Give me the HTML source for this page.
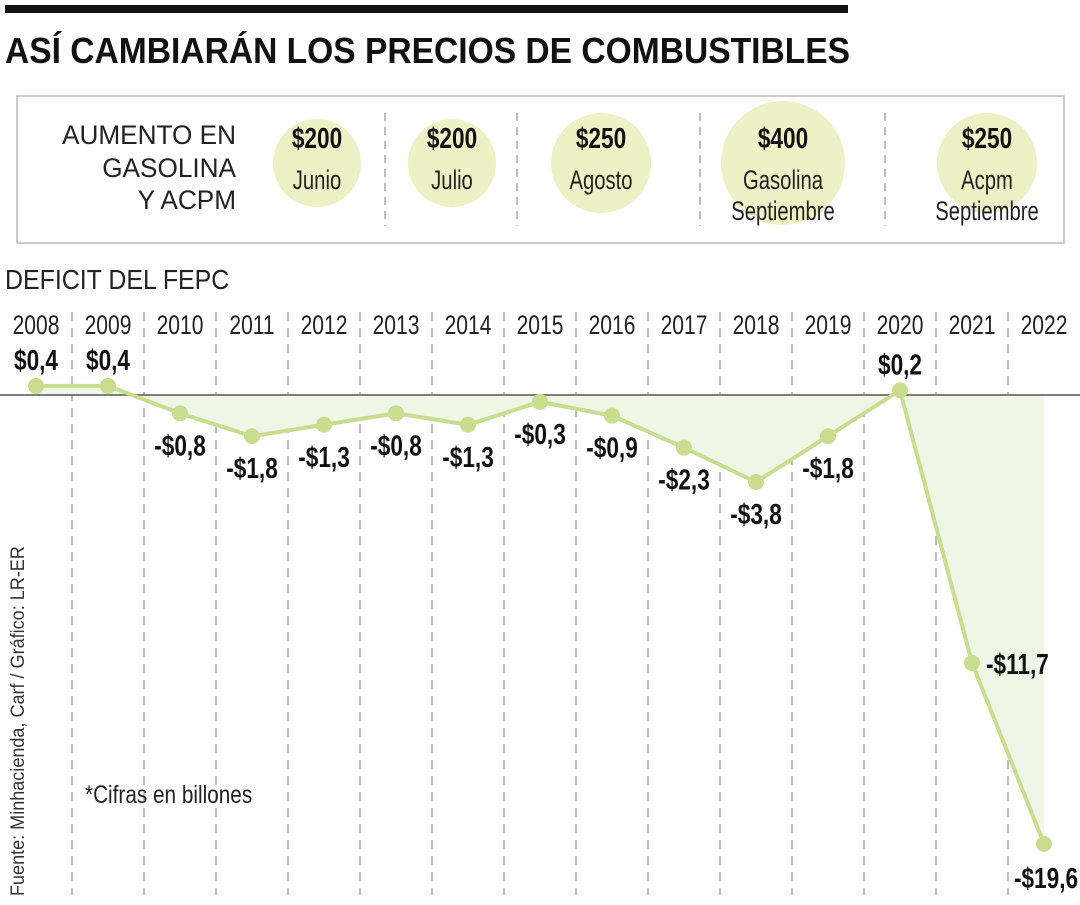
<!DOCTYPE html>
<html><head><meta charset="utf-8"><style>
body{margin:0;background:#fff;width:1080px;height:900px;overflow:hidden;font-family:"Liberation Sans",sans-serif;}
svg text{font-family:"Liberation Sans",sans-serif;}
</style></head><body>
<svg id="c" width="1080" height="900" xmlns="http://www.w3.org/2000/svg">
<rect x="5" y="5" width="843" height="8" fill="#111"/>
<text x="5" y="63" font-size="36" font-weight="bold" fill="#111" textLength="845" lengthAdjust="spacingAndGlyphs">ASÍ CAMBIARÁN LOS PRECIOS DE COMBUSTIBLES</text>
<rect x="17" y="96" width="1047" height="147" fill="none" stroke="#bbb" stroke-width="1.5"/>
<g font-size="27" fill="#222" text-anchor="end">
<text transform="translate(236,144) scale(0.97,1)">AUMENTO EN</text><text transform="translate(236,177) scale(0.97,1)">GASOLINA</text><text transform="translate(236,209) scale(0.97,1)">Y ACPM</text></g>
<g id="circ"></g>
<text transform="translate(5,289) scale(0.89,1)" font-size="28" fill="#222">DEFICIT DEL FEPC</text>
<g id="plot"></g>
<text transform="translate(85,803) scale(0.83,1)" font-size="25" fill="#222">*Cifras en billones</text>
<text transform="translate(24,896) rotate(-90) scale(0.95,1)" font-size="19" fill="#333">Fuente: Minhacienda, Carf / Gráfico: LR-ER</text>
</svg>
<script>
const years=["2008","2009","2010","2011","2012","2013","2014","2015","2016","2017","2018","2019","2020","2021","2022"];
const values=[0.4,0.4,-0.8,-1.8,-1.3,-0.8,-1.3,-0.3,-0.9,-2.3,-3.8,-1.8,0.2,-11.7,-19.6];
const labels=["$0,4","$0,4","-$0,8","-$1,8","-$1,3","-$0,8","-$1,3","-$0,3","-$0,9","-$2,3","-$3,8","-$1,8","$0,2","-$11,7","-$19,6"];
const incAmounts=["$200","$200","$250","$400","$250"];
const incNames=[["Junio"],["Julio"],["Agosto"],["Gasolina","Septiembre"],["Acpm","Septiembre"]];
const NS="http://www.w3.org/2000/svg";
function mk(t,a,p){const e=document.createElementNS(NS,t);for(const k in a)e.setAttribute(k,a[k]);p.appendChild(e);return e;}
const tr=(x,y,s)=>'translate('+x+','+y+') scale('+s+',1)';
const xs=i=>36+i*72, ys=v=>395-v*22.9;
const circ=document.getElementById('circ');
const cx=[317,452,601,783,987], cr=[44,44,50,62,50];
[385,517,700,885].forEach(x=>{const l=mk('line',{x1:x,x2:x,y1:113,y2:226,stroke:'#aaa','stroke-width':1.5,'stroke-dasharray':'8,6'},circ);

});
incAmounts.forEach((a,i)=>{
 const c=mk('circle',{cx:cx[i],cy:163,r:cr[i],fill:'#eef0c6'},circ);
 
 
 const t=mk('text',{transform:tr(cx[i],148,0.78),'font-size':29,'font-weight':'bold','text-anchor':'middle',fill:'#111'},circ);t.textContent=a;
 
 
 incNames[i].forEach((n,j)=>{const s=mk('text',{transform:tr(cx[i],189+j*31,0.75),'font-size':27,'text-anchor':'middle',fill:'#222'},circ);s.textContent=n;
 
 });
});
const g=document.getElementById('plot');
for(let i=1;i<=14;i++){const l=mk('line',{x1:i*72,x2:i*72,y1:312,y2:895,stroke:'#aaa','stroke-width':1.5,'stroke-dasharray':'9,7'},g);

}
let pts=values.map((v,i)=>xs(i)+','+ys(v)).join(' ');
const area=mk('polygon',{points:xs(0)+','+ys(0)+' '+pts+' '+xs(14)+','+ys(0),fill:'#eef6e6'},g);


const z=mk('line',{x1:0,x2:1080,y1:ys(0),y2:ys(0),stroke:'#555','stroke-width':1.5},g);


const pl=mk('polyline',{points:pts,fill:'none',stroke:'#c8de8e','stroke-width':4},g);


years.forEach((y,i)=>{
 const t=mk('text',{transform:tr(xs(i),334,0.78),'font-size':27,'text-anchor':'middle',fill:'#222'},g);t.textContent=y;
 
 
 const v=values[i];
 const c=mk('circle',{cx:xs(i),cy:ys(v),r:8,fill:'#c8de8e'},g);
 
 
 let lx=xs(i),ly,anc='middle';
 if(v>=0) ly=ys(v)-16; else ly=ys(v)+42;
 if(i==13){lx=xs(i)+14;ly=ys(v)+11;anc='start';}
 if(i==14){lx=xs(i)+2;ly=ys(v)+44;}
 const lt=mk('text',{transform:tr(lx,ly,0.78),'font-size':29,'font-weight':'bold','text-anchor':anc,fill:'#111'},g);lt.textContent=labels[i];
 
 
});
</script>
</body></html>
